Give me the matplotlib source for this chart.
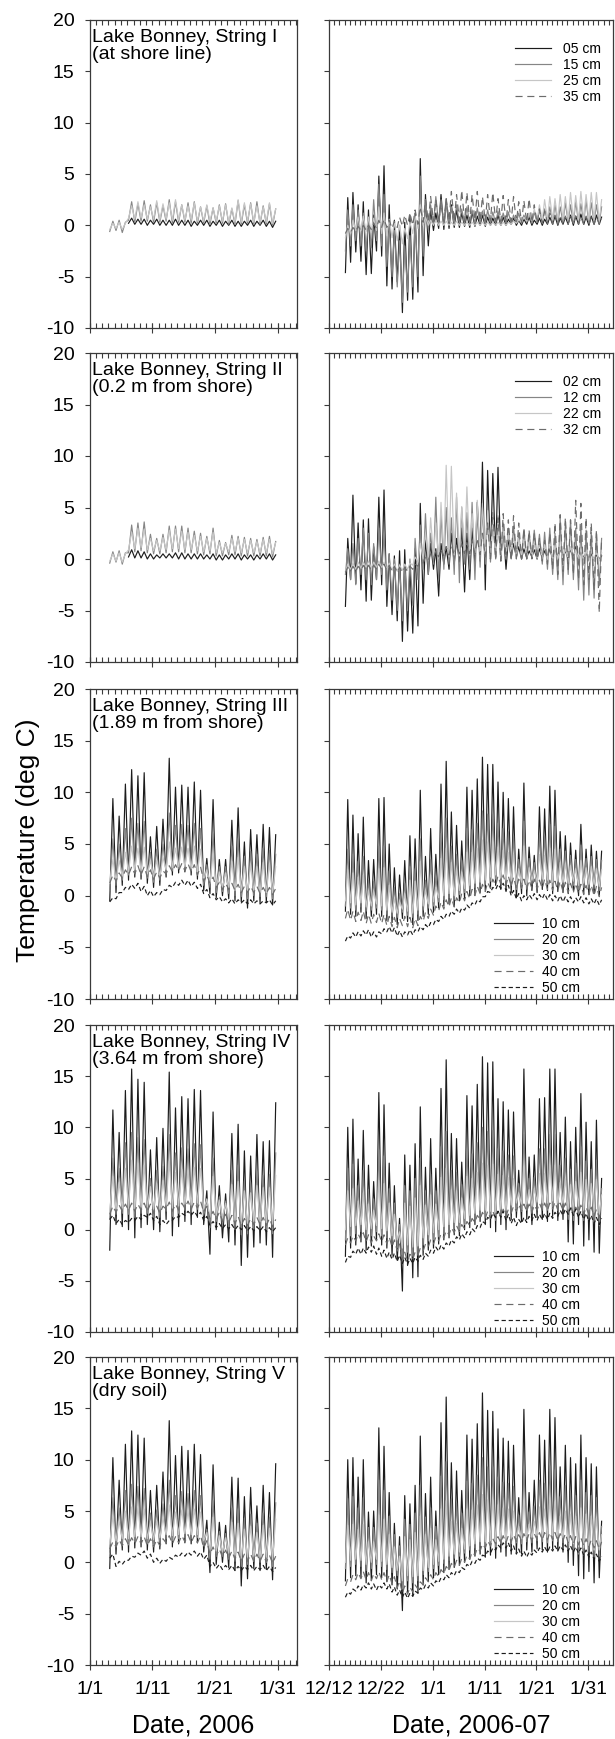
import numpy as np
import matplotlib.pyplot as plt
from matplotlib.ticker import FixedLocator, MultipleLocator

plt.rcParams['font.family'] = ['Liberation Sans', 'DejaVu Sans']
plt.rcParams['axes.unicode_minus'] = False

# ---------------------------------------------------------------- data
# daily minimum (lo) and maximum (hi) temperatures, deg C
# left column: days after 1/1/2006, right column: days after 12/12/2006
left_days = list(range(3, 30))
right_days = list(range(3, 53))
left_hour_lo, left_hour_hi = 0.2, 0.7
right_hour_lo, right_hour_hi = 0.15, 0.6

left_ticks = [0, 10, 20, 30]
left_ticklabels = ['1/1', '1/11', '1/21', '1/31']
right_ticks = [0, 10, 20, 30, 40, 50]
right_ticklabels = ['12/12', '12/22', '1/1', '1/11', '1/21', '1/31']

labels_I = ['05 cm', '15 cm', '25 cm', '35 cm']
labels_II = ['02 cm', '12 cm', '22 cm', '32 cm']
labels_deep = ['10 cm', '20 cm', '30 cm', '40 cm', '50 cm']

titles = ['Lake Bonney, String I\n(at shore line)',
          'Lake Bonney, String II\n(0.2 m from shore)',
          'Lake Bonney, String III\n(1.89 m from shore)',
          'Lake Bonney, String IV\n(3.64 m from shore)',
          'Lake Bonney, String V\n(dry soil)']

# --- String I, 2006
L1_05_hi = [None, None, None, 0.7, 0.6, 0.6, 0.5, 0.6, 0.5, 0.5, 0.6, 0.5, 0.5, 0.4, 0.5, 0.5, 0.4, 0.5, 0.4, 0.5, 0.4, 0.4, 0.5, 0.4, 0.5, 0.4, 0.4]
L1_05_lo = [None, None, None, 0.2, 0.1, 0.1, 0.0, 0.1, 0.0, 0.0, 0.0, 0.0, 0.0, -0.1, 0.0, 0.0, -0.1, 0.0, -0.1, 0.0, -0.1, -0.1, 0.0, -0.1, 0.0, -0.1, -0.2]
L1_15_hi = [0.4, 0.5, 0.3, 2.3, 2.1, 2.4, 2.0, 2.2, 1.9, 2.5, 2.3, 2.0, 2.2, 2.3, 1.8, 1.9, 1.7, 2.0, 2.1, 1.6, 2.4, 2.0, 2.2, 2.3, 1.9, 2.1, 1.6]
L1_15_lo = [-0.6, -0.5, -0.7, 0.5, 0.3, 0.4, 0.4, 0.3, 0.3, 0.4, 0.2, 0.3, 0.3, 0.2, 0.2, 0.2, 0.1, 0.2, 0.2, 0.1, 0.1, 0.1, 0.2, 0.1, 0.1, 0.1, 0.0]
L1_25_hi = [0.2, 0.3, 0.2, 1.9, 2.3, 2.0, 1.8, 2.4, 2.1, 2.2, 2.5, 2.0, 1.9, 2.2, 1.8, 2.0, 1.7, 1.9, 2.0, 1.7, 2.5, 2.2, 2.1, 1.9, 1.8, 2.2, 1.6]
L1_25_lo = [-0.4, -0.3, -0.4, 0.7, 0.6, 0.7, 0.6, 0.6, 0.5, 0.6, 0.5, 0.5, 0.5, 0.5, 0.4, 0.4, 0.4, 0.4, 0.4, 0.3, 0.3, 0.3, 0.4, 0.3, 0.3, 0.3, 0.2]

# --- String II, 2006
L2_02_hi = [None, None, None, 0.9, 0.8, 0.7, 0.5, 0.4, 0.5, 0.5, 0.6, 0.6, 0.5, 0.5, 0.5, 0.4, 0.5, 0.4, 0.4, 0.5, 0.5, 0.4, 0.4, 0.4, 0.5, 0.5, 0.4]
L2_02_lo = [None, None, None, 0.2, 0.1, 0.1, 0.0, 0.0, 0.1, 0.1, 0.1, 0.0, 0.0, 0.0, 0.0, 0.0, 0.0, -0.1, -0.1, 0.0, 0.0, -0.1, 0.0, -0.1, 0.0, 0.0, -0.1]
L2_12_hi = [0.7, 0.8, 0.6, 3.3, 3.5, 3.6, 2.4, 2.0, 2.4, 3.2, 3.2, 3.2, 3.0, 2.7, 2.5, 2.2, 3.0, 1.8, 1.6, 2.3, 2.2, 2.1, 2.0, 1.9, 2.1, 2.2, 1.7]
L2_12_lo = [-0.4, -0.3, -0.5, 0.6, 0.7, 0.8, 0.6, 0.5, 0.5, 0.6, 0.7, 0.7, 0.6, 0.6, 0.5, 0.4, 0.5, 0.3, 0.3, 0.4, 0.4, 0.3, 0.3, 0.3, 0.3, 0.3, 0.2]
L2_22_hi = [0.5, 0.6, 0.5, 2.6, 3.0, 2.9, 2.0, 1.8, 2.1, 2.8, 2.9, 2.7, 2.6, 2.3, 2.2, 2.0, 2.6, 1.6, 1.5, 2.0, 2.0, 1.9, 1.8, 1.7, 1.9, 1.9, 1.6]
L2_22_lo = [-0.2, -0.2, -0.3, 0.9, 1.0, 1.1, 0.9, 0.8, 0.8, 0.9, 1.0, 1.0, 0.9, 0.9, 0.8, 0.7, 0.8, 0.6, 0.6, 0.7, 0.7, 0.6, 0.6, 0.6, 0.6, 0.6, 0.5]

# --- String III, 2006
L3_10_hi = [9.4, 7.7, 10.8, 12.2, 11.6, 11.9, 5.7, 6.7, 7.4, 13.3, 10.5, 10.7, 10.5, 11.0, 10.2, 3.6, 9.3, 3.5, 3.5, 7.3, 8.5, 5.2, 6.4, 5.9, 6.9, 6.6, 5.9]
L3_10_lo = [-0.5, 0.3, 1.0, 1.5, 1.8, 1.6, 1.2, 0.8, 1.0, 1.8, 2.0, 2.2, 2.3, 2.0, 1.6, 0.5, 0.2, -0.2, 0.0, -0.3, -0.5, -0.6, -1.2, -0.5, -0.7, -0.6, -0.9]
L3_20_hi = [5.5, 5.0, 6.5, 7.5, 7.0, 7.2, 4.2, 4.5, 5.0, 8.0, 6.8, 6.9, 6.8, 7.0, 6.5, 3.0, 6.0, 2.8, 2.8, 4.8, 5.5, 3.8, 4.3, 4.0, 4.6, 4.4, 4.0]
L3_20_lo = [0.5, 1.0, 1.5, 2.0, 2.2, 2.0, 1.7, 1.3, 1.5, 2.2, 2.4, 2.6, 2.6, 2.4, 2.0, 1.0, 0.8, 0.3, 0.4, 0.2, 0.0, -0.1, -0.3, 0.0, -0.1, -0.1, -0.3]
L3_30_hi = [3.5, 3.4, 4.2, 4.8, 4.6, 4.7, 3.4, 3.4, 3.7, 5.2, 4.6, 4.7, 4.6, 4.8, 4.5, 2.5, 4.0, 2.3, 2.2, 3.3, 3.7, 2.8, 3.0, 2.8, 3.2, 3.1, 2.8]
L3_30_lo = [1.2, 1.5, 1.9, 2.3, 2.5, 2.4, 2.1, 1.8, 1.9, 2.5, 2.7, 2.8, 2.8, 2.6, 2.3, 1.5, 1.2, 0.8, 0.8, 0.7, 0.5, 0.4, 0.3, 0.4, 0.3, 0.3, 0.2]
L3_40_hi = [2.0, 2.2, 2.5, 2.8, 2.9, 2.8, 2.5, 2.3, 2.4, 2.9, 3.0, 3.1, 3.1, 3.0, 2.8, 2.0, 1.8, 1.3, 1.2, 1.2, 1.1, 0.9, 0.9, 0.9, 0.8, 0.8, 0.7]
L3_40_lo = [1.2, 1.4, 1.7, 2.0, 2.1, 2.0, 1.8, 1.6, 1.7, 2.1, 2.3, 2.4, 2.4, 2.3, 2.0, 1.4, 1.2, 0.8, 0.6, 0.6, 0.5, 0.3, 0.3, 0.3, 0.2, 0.2, 0.1]
L3_50_hi = [-0.2, 0.3, 0.8, 1.1, 1.2, 0.9, 0.5, 0.3, 0.6, 1.0, 1.3, 1.5, 1.5, 1.3, 1.1, 0.6, 0.2, -0.1, -0.3, -0.3, -0.4, -0.4, -0.4, -0.5, -0.5, -0.4, -0.5]
L3_50_lo = [-0.6, -0.3, 0.3, 0.6, 0.7, 0.4, 0.0, -0.1, 0.1, 0.5, 0.8, 1.0, 1.0, 0.9, 0.7, 0.2, -0.2, -0.4, -0.6, -0.7, -0.8, -0.7, -0.8, -0.8, -0.8, -0.7, -0.9]

# --- String IV, 2006
L4_10_hi = [11.7, 9.5, 13.6, 15.7, 14.7, 14.4, 7.8, 9.0, 9.9, 15.4, 11.9, 13.0, 12.8, 13.7, 13.6, 3.8, 11.5, 4.3, 3.5, 9.4, 10.3, 7.7, 7.2, 9.3, 8.6, 8.7, 12.4]
L4_10_lo = [-2.0, 0.5, 0.3, 0.0, -0.8, 0.2, 0.5, 0.0, -0.2, 1.0, -0.6, 0.3, 0.8, 0.5, 1.2, 0.5, -2.4, 0.0, -0.8, -1.2, -1.5, -3.5, -2.7, -1.7, -1.3, -1.5, -2.7]
L4_20_hi = [7.0, 6.0, 8.5, 9.5, 9.0, 8.8, 5.0, 5.8, 6.2, 9.3, 7.5, 8.0, 7.9, 8.4, 8.3, 3.0, 7.0, 3.2, 2.8, 5.8, 6.3, 4.8, 4.6, 5.7, 5.3, 5.4, 7.5]
L4_20_lo = [1.0, 1.5, 1.6, 1.5, 1.2, 1.6, 1.6, 1.2, 1.2, 1.8, 1.3, 1.6, 1.9, 1.7, 2.0, 1.4, 0.2, 0.8, 0.5, 0.2, 0.0, -0.5, -0.4, 0.0, 0.1, 0.0, -0.4]
L4_30_hi = [5.2, 4.6, 6.0, 6.8, 6.5, 6.3, 4.2, 4.5, 4.8, 6.7, 5.6, 5.9, 5.8, 6.1, 6.0, 3.0, 5.2, 2.9, 2.6, 4.4, 4.7, 3.8, 3.6, 4.3, 4.1, 4.1, 5.3]
L4_30_lo = [1.8, 2.0, 2.1, 2.1, 2.0, 2.2, 2.2, 2.0, 2.0, 2.4, 2.1, 2.3, 2.5, 2.4, 2.6, 2.0, 1.2, 1.4, 1.2, 1.0, 0.9, 0.6, 0.6, 0.8, 0.8, 0.7, 0.5]
L4_40_hi = [2.3, 2.4, 2.5, 2.6, 2.5, 2.6, 2.5, 2.3, 2.3, 2.7, 2.5, 2.6, 2.8, 2.7, 2.8, 2.3, 1.8, 1.7, 1.5, 1.4, 1.3, 1.1, 1.1, 1.2, 1.2, 1.1, 1.0]
L4_40_lo = [1.5, 1.7, 1.8, 1.9, 1.8, 1.9, 1.8, 1.6, 1.6, 2.0, 1.8, 1.9, 2.1, 2.0, 2.1, 1.7, 1.1, 1.0, 0.8, 0.7, 0.6, 0.4, 0.4, 0.5, 0.5, 0.4, 0.3]
L4_50_hi = [1.4, 1.0, 0.9, 1.1, 1.3, 1.4, 1.6, 1.3, 0.9, 0.9, 1.3, 1.6, 1.8, 1.8, 1.7, 1.3, 0.8, 0.6, 0.5, 0.5, 0.4, 0.4, 0.3, 0.3, 0.3, 0.2, 0.2]
L4_50_lo = [1.0, 0.6, 0.5, 0.7, 0.9, 1.0, 1.2, 0.9, 0.5, 0.5, 0.9, 1.2, 1.4, 1.4, 1.3, 0.9, 0.4, 0.2, 0.1, 0.1, 0.0, 0.0, -0.1, -0.1, -0.1, -0.2, -0.2]

# --- String V, 2006
L5_10_hi = [10.2, 8.0, 11.5, 12.8, 12.4, 12.1, 7.0, 7.5, 8.8, 13.8, 10.4, 11.3, 10.9, 11.5, 10.5, 4.1, 9.5, 3.9, 3.6, 8.3, 8.2, 6.4, 7.3, 5.5, 7.5, 6.8, 9.6]
L5_10_lo = [-0.6, 0.8, 1.2, 1.0, 1.4, 1.5, 1.2, 1.0, 1.3, 1.8, 1.5, 1.8, 1.9, 1.8, 1.9, 1.0, -1.0, -0.2, 0.0, -0.5, -0.8, -2.3, -1.6, -0.6, -0.8, -0.7, -1.7]
L5_20_hi = [6.3, 5.3, 7.0, 7.6, 7.4, 7.2, 4.8, 5.1, 5.7, 8.0, 6.5, 6.9, 6.7, 7.0, 6.5, 3.2, 6.0, 3.0, 2.8, 5.3, 5.2, 4.3, 4.7, 3.8, 4.8, 4.4, 5.8]
L5_20_lo = [1.0, 1.5, 1.8, 1.7, 2.0, 2.1, 1.8, 1.7, 1.9, 2.3, 2.1, 2.3, 2.4, 2.3, 2.4, 1.6, 0.3, 0.6, 0.6, 0.3, 0.1, -0.4, -0.2, 0.1, 0.0, 0.0, -0.4]
L5_30_hi = [4.5, 4.0, 5.0, 5.4, 5.3, 5.2, 3.9, 4.0, 4.3, 5.6, 4.9, 5.1, 5.0, 5.2, 4.9, 2.9, 4.4, 2.6, 2.4, 3.9, 3.8, 3.2, 3.5, 2.9, 3.6, 3.3, 4.2]
L5_30_lo = [1.8, 2.1, 2.3, 2.3, 2.5, 2.5, 2.3, 2.2, 2.4, 2.7, 2.6, 2.7, 2.8, 2.7, 2.7, 2.1, 1.2, 1.1, 1.0, 0.9, 0.7, 0.4, 0.5, 0.6, 0.5, 0.5, 0.3]
L5_40_hi = [2.0, 2.2, 2.3, 2.4, 2.5, 2.5, 2.3, 2.2, 2.3, 2.6, 2.5, 2.6, 2.7, 2.6, 2.6, 2.1, 1.5, 1.3, 1.2, 1.1, 1.0, 0.8, 0.8, 0.8, 0.8, 0.7, 0.6]
L5_40_lo = [1.3, 1.5, 1.6, 1.7, 1.8, 1.8, 1.6, 1.5, 1.6, 1.9, 1.8, 1.9, 2.0, 1.9, 1.9, 1.4, 0.8, 0.6, 0.5, 0.4, 0.3, 0.1, 0.1, 0.1, 0.1, 0.0, -0.1]
L5_50_hi = [0.8, 0.1, 0.2, 0.6, 0.9, 1.1, 0.8, 0.4, 0.3, 0.5, 0.7, 0.9, 1.0, 1.1, 1.0, 0.7, 0.0, -0.2, -0.3, -0.3, -0.4, -0.4, -0.3, -0.4, -0.3, -0.4, -0.5]
L5_50_lo = [0.4, -0.4, -0.2, 0.2, 0.5, 0.7, 0.4, 0.0, -0.1, 0.1, 0.3, 0.5, 0.6, 0.7, 0.6, 0.3, -0.4, -0.6, -0.7, -0.7, -0.8, -0.8, -0.7, -0.8, -0.7, -0.8, -0.9]

# --- String I, 2006-07
R1_05_hi = [2.7, 3.2, 2.0, 2.3, 1.5, 1.0, 4.8, 5.8, 2.0, 0.5, 0.0, 0.3, 1.0, 1.2, 6.5, 3.0, 1.5, 1.2, 3.0, 2.5, 2.0, 1.5, 1.2, 1.0, 1.3, 0.9, 1.0, 0.8, 0.7, 1.0, 0.8, 0.6, 0.7, 0.5, 0.6, 0.8, 0.5, 0.7, 0.6, 0.8, 0.9, 0.7, 0.8, 1.0, 0.9, 1.1, 0.8, 0.9, 1.0, 0.8]
R1_05_lo = [-4.6, -3.6, -2.6, -3.5, -4.8, -4.7, -2.5, -3.0, -5.9, -6.2, -5.5, -8.5, -7.3, -7.2, -6.5, -4.9, -2.0, -0.5, -0.3, -0.4, -0.3, -0.2, -0.2, -0.1, -0.2, -0.1, 0.0, -0.1, 0.0, 0.0, 0.0, 0.0, 0.1, 0.0, 0.0, 0.1, 0.0, 0.1, 0.0, 0.1, 0.1, 0.0, 0.1, 0.1, 0.0, 0.1, 0.1, 0.0, 0.1, 0.1]
R1_15_hi = [1.5, 2.0, 1.5, 1.2, 0.8, 2.5, 4.0, 3.0, 0.0, -0.5, -1.5, -2.0, -1.0, 0.5, 4.8, 2.5, 2.0, 2.8, 2.5, 2.2, 1.8, 2.0, 1.6, 1.8, 1.5, 1.7, 1.4, 1.5, 1.3, 1.4, 1.2, 1.3, 1.0, 1.2, 1.0, 1.1, 1.3, 1.5, 1.6, 1.8, 2.0, 1.8, 2.2, 2.0, 2.3, 2.1, 2.4, 2.2, 2.0, 1.8]
R1_15_lo = [-2.5, -2.0, -1.5, -2.0, -2.5, -2.2, -1.5, -2.0, -4.0, -5.0, -6.0, -7.5, -6.5, -6.0, -5.0, -3.0, -0.5, 0.0, 0.1, 0.0, 0.2, 0.1, 0.2, 0.1, 0.2, 0.1, 0.2, 0.1, 0.2, 0.2, 0.1, 0.2, 0.1, 0.2, 0.2, 0.3, 0.2, 0.3, 0.2, 0.3, 0.3, 0.2, 0.3, 0.3, 0.2, 0.3, 0.3, 0.2, 0.3, 0.2]
R1_25_hi = [0.0, 0.5, 0.8, 0.9, 0.8, 0.7, 1.8, 1.2, 0.6, 0.3, 0.0, -0.3, 0.3, 0.9, 2.0, 0.8, 0.5, 0.5, 0.4, 0.4, 0.3, 0.4, 0.3, 0.3, 0.3, 0.3, 0.3, 0.3, 0.3, 0.3, 0.3, 0.3, 0.4, 0.5, 0.8, 1.2, 1.6, 2.0, 2.5, 2.8, 2.6, 3.0, 2.8, 3.2, 2.9, 3.3, 3.0, 3.2, 3.2, 2.5]
R1_25_lo = [-1.2, -0.8, -0.5, -0.5, -0.6, -0.7, -0.5, -0.8, -1.0, -1.2, -1.5, -1.8, -1.3, -0.8, -0.3, 0.0, 0.0, 0.0, 0.0, 0.0, 0.0, 0.0, 0.0, 0.0, 0.0, 0.0, 0.0, 0.0, 0.0, 0.0, 0.0, 0.0, 0.1, 0.2, 0.3, 0.4, 0.5, 0.5, 0.5, 0.5, 0.5, 0.5, 0.5, 0.5, 0.5, 0.5, 0.5, 0.5, 0.5, 0.4]
R1_35_hi = [-0.3, -0.2, -0.1, 0.0, 0.0, 0.2, 0.5, 0.6, 0.5, 0.4, 0.8, 1.0, 1.2, 1.5, 1.8, 2.5, 2.8, 2.5, 2.2, 2.6, 3.3, 3.0, 3.4, 3.2, 3.0, 3.3, 2.8, 3.0, 3.2, 2.6, 2.9, 2.5, 2.8, 2.3, 2.4, 2.6, 2.0, 1.6, 1.4, 1.2, 1.0, 1.0, 0.9, 1.0, 0.9, 0.8, 0.9, 0.8, 0.8, 0.7]
R1_35_lo = [-0.8, -0.7, -0.6, -0.5, -0.5, -0.4, -0.3, -0.2, -0.2, -0.3, -0.2, -0.1, 0.0, 0.0, 0.1, 0.3, 0.4, 0.4, 0.3, 0.4, 0.5, 0.4, 0.5, 0.4, 0.4, 0.5, 0.4, 0.4, 0.5, 0.4, 0.4, 0.3, 0.4, 0.3, 0.3, 0.3, 0.3, 0.2, 0.2, 0.2, 0.1, 0.1, 0.1, 0.1, 0.1, 0.1, 0.1, 0.1, 0.1, 0.1]

# --- String II, 2006-07
R2_02_hi = [2.0, 6.2, 3.5, 3.8, 3.9, 1.2, 6.0, 6.7, 0.5, 0.3, 0.8, 0.9, -0.7, 1.0, 5.4, 2.0, 1.5, 1.0, 1.5, 1.2, 2.5, 2.0, 3.0, 2.5, 3.0, 5.5, 9.4, 8.6, 8.3, 8.9, 3.0, 2.0, 1.5, 1.2, 1.0, 0.8, 0.9, 1.0, 0.8, 1.0, 1.2, 1.0, 0.8, 1.0, 1.2, 0.8, 0.6, 0.5, 0.4, 0.3]
R2_02_lo = [-4.6, -2.0, -2.4, -3.0, -4.1, -4.0, -2.0, -2.5, -4.6, -5.4, -6.0, -8.0, -7.0, -7.2, -6.5, -4.3, -1.5, -1.0, -3.6, -0.5, -1.0, -0.5, -0.3, -3.2, -2.0, -0.5, -0.2, -3.0, 0.0, 0.2, 0.0, -1.0, 0.1, 0.2, 0.0, 0.1, 0.2, 0.0, 0.1, 0.2, 0.0, 0.1, 0.2, 0.0, 0.1, 0.0, 0.1, 0.0, -0.1, 0.0]
R2_12_hi = [1.0, 1.5, 2.0, 3.0, 2.5, 1.5, 3.0, 2.5, 0.5, 0.0, -0.5, -0.5, 0.0, 2.0, 3.3, 4.4, 2.5, 6.0, 4.5, 5.0, 4.0, 6.0, 5.0, 4.5, 5.5, 4.8, 5.0, 4.5, 4.0, 4.2, 3.5, 3.0, 3.2, 2.5, 2.8, 2.5, 2.8, 2.4, 2.6, 3.0, 2.5, 4.0, 3.5, 3.8, 3.0, 3.2, 2.8, 2.6, 2.5, 2.0]
R2_12_lo = [-1.5, -2.0, -2.5, -1.5, -2.0, -2.5, -2.0, -1.5, -3.0, -4.0, -5.0, -6.0, -5.0, -4.5, -2.0, -1.0, -1.5, -0.5, -2.0, -1.0, -0.5, -1.5, -2.3, -0.5, -1.0, -2.0, -0.8, -0.5, -0.3, 0.0, -0.2, 0.0, 0.0, 0.1, 0.0, 0.0, 0.2, 0.0, -0.5, -1.0, -1.5, -2.0, -2.5, -1.5, -2.0, -3.0, -4.0, -3.5, -3.8, -2.6]
R2_22_hi = [-0.5, -0.4, -0.3, -0.3, -0.2, -0.3, -0.2, -0.3, -0.4, -0.5, -0.6, -0.5, -0.4, 0.2, 1.5, 2.5, 4.0, 3.5, 5.5, 9.1, 9.0, 6.4, 5.1, 7.0, 4.4, 5.7, 5.4, 4.7, 4.0, 3.5, 3.0, 2.5, 2.2, 2.0, 1.8, 1.6, 1.5, 1.6, 1.4, 1.5, 1.3, 1.2, 1.0, 1.2, 0.9, 1.0, 0.8, 0.9, 0.7, 0.6]
R2_22_lo = [-1.2, -1.0, -1.0, -0.9, -0.8, -0.9, -0.8, -0.9, -1.0, -1.1, -1.2, -1.1, -1.0, -0.6, -0.3, 0.0, 0.0, 0.2, 0.1, 0.3, 0.2, 0.4, 0.3, 0.5, 0.4, 0.5, 0.4, 0.5, 0.4, 0.4, 0.3, 0.3, 0.3, 0.2, 0.2, 0.2, 0.1, 0.1, 0.0, 0.0, 0.0, 0.0, 0.0, 0.0, 0.0, 0.0, -0.1, -0.1, -0.2, -0.2]
R2_32_hi = [-0.8, -0.7, -0.7, -0.6, -0.6, -0.6, -0.5, -0.5, -0.6, -0.7, -0.8, -0.8, -0.7, -0.5, -0.2, 0.2, 0.5, 0.8, 1.0, 1.2, 1.3, 1.4, 1.5, 1.6, 1.8, 2.0, 2.5, 3.5, 4.5, 4.0, 4.4, 3.8, 4.2, 3.5, 3.0, 2.8, 2.5, 2.0, 1.8, 2.5, 3.5, 4.3, 4.0, 3.8, 5.7, 5.4, 4.0, 3.5, 2.8, 2.0]
R2_32_lo = [-1.3, -1.2, -1.2, -1.1, -1.1, -1.1, -1.0, -1.0, -1.1, -1.2, -1.3, -1.3, -1.2, -1.0, -0.7, -0.4, -0.1, 0.1, 0.2, 0.3, 0.4, 0.4, 0.5, 0.5, 0.5, 0.5, 0.4, 0.2, 0.0, 0.0, -0.2, 0.0, -0.1, 0.0, 0.0, 0.0, 0.0, 0.0, -0.2, -0.5, -1.0, -1.5, -1.2, -1.0, -1.5, -2.0, -2.5, -2.0, -3.0, -5.2]

# --- String III, 2006-07
R3_10_hi = [9.3, 7.8, 6.0, 7.6, 3.4, 3.5, 9.4, 9.5, 5.0, 2.7, 2.0, 3.4, 5.8, 5.5, 10.2, 3.8, 6.5, 4.0, 10.8, 13.0, 8.1, 6.8, 5.3, 10.5, 10.2, 11.3, 13.4, 12.7, 12.7, 11.0, 10.0, 9.4, 8.6, 4.5, 10.9, 4.7, 3.9, 8.6, 8.4, 10.6, 10.2, 6.2, 5.8, 5.1, 4.4, 6.9, 4.5, 4.9, 4.3, 4.3]
R3_10_lo = [-1.5, -1.8, -2.0, -1.6, -2.2, -2.0, -1.8, -2.0, -2.4, -2.6, -2.8, -2.2, -2.5, -2.8, -2.4, -2.0, -1.8, -1.6, -1.2, -1.0, -0.8, -1.0, -0.5, -0.3, 0.0, 0.2, 0.3, 0.5, 0.8, 1.0, 0.6, 0.4, 0.3, -0.2, 0.2, 0.0, 0.5, 0.3, 0.6, 0.5, 0.2, 0.4, 0.3, 0.2, 0.5, 0.0, 0.3, 0.1, 0.2, 0.0]
R3_20_hi = [4.5, 4.0, 3.3, 3.8, 1.5, 1.4, 4.8, 4.8, 2.4, 0.8, 0.2, 1.2, 2.8, 2.6, 5.5, 1.5, 3.5, 1.9, 6.0, 7.5, 4.8, 4.0, 3.4, 6.5, 6.4, 7.0, 8.2, 7.9, 7.9, 7.0, 6.5, 6.2, 5.8, 3.5, 7.2, 3.6, 3.2, 5.9, 5.8, 6.9, 6.7, 4.5, 4.3, 3.9, 3.5, 4.9, 3.6, 3.8, 3.5, 3.4]
R3_20_lo = [-1.0, -1.2, -1.4, -1.1, -1.5, -1.4, -1.2, -1.4, -1.8, -2.0, -2.1, -1.6, -1.9, -2.1, -1.8, -1.4, -1.2, -1.0, -0.6, -0.4, -0.2, -0.4, 0.1, 0.3, 0.6, 0.8, 0.9, 1.1, 1.4, 1.6, 1.3, 1.1, 1.0, 0.6, 0.9, 0.7, 1.1, 0.9, 1.2, 1.1, 0.9, 1.0, 0.9, 0.8, 1.0, 0.6, 0.8, 0.7, 0.7, 0.5]
R3_30_hi = [2.5, 2.2, 1.8, 2.0, 0.5, 0.4, 2.6, 2.7, 1.0, -0.3, -0.6, 0.2, 1.5, 1.4, 3.3, 0.5, 2.0, 0.8, 3.6, 4.6, 3.2, 2.6, 2.3, 4.2, 4.2, 4.6, 5.4, 5.2, 5.2, 4.7, 4.4, 4.2, 4.0, 2.6, 4.8, 2.7, 2.4, 4.0, 3.9, 4.6, 4.5, 3.2, 3.1, 2.9, 2.6, 3.4, 2.7, 2.8, 2.6, 2.5]
R3_30_lo = [-0.5, -0.7, -0.9, -0.7, -1.1, -1.0, -0.8, -1.0, -1.4, -1.6, -1.7, -1.3, -1.5, -1.7, -1.4, -1.0, -0.8, -0.6, -0.2, 0.0, 0.2, 0.0, 0.5, 0.7, 1.0, 1.2, 1.3, 1.5, 1.8, 2.0, 1.7, 1.5, 1.4, 1.1, 1.3, 1.1, 1.5, 1.3, 1.6, 1.5, 1.3, 1.4, 1.3, 1.2, 1.4, 1.0, 1.2, 1.1, 1.1, 0.9]
R3_40_hi = [-1.3, -1.5, -1.6, -1.5, -1.8, -1.8, -1.7, -1.8, -2.0, -2.1, -2.2, -2.0, -2.1, -2.2, -2.0, -1.6, -1.3, -1.0, -0.6, -0.4, -0.2, -0.2, 0.2, 0.4, 0.6, 0.9, 1.1, 1.3, 1.6, 1.9, 2.0, 1.9, 1.8, 1.6, 1.6, 1.5, 1.6, 1.5, 1.6, 1.5, 1.4, 1.4, 1.3, 1.2, 1.2, 1.1, 1.0, 1.0, 0.9, 0.8]
R3_40_lo = [-2.2, -2.4, -2.5, -2.4, -2.7, -2.7, -2.6, -2.7, -2.9, -3.0, -3.1, -2.9, -3.0, -3.1, -2.9, -2.5, -2.2, -1.9, -1.5, -1.3, -1.1, -1.1, -0.7, -0.5, -0.3, 0.0, 0.2, 0.4, 0.7, 1.0, 1.1, 1.0, 0.9, 0.7, 0.7, 0.6, 0.7, 0.6, 0.7, 0.6, 0.5, 0.5, 0.4, 0.3, 0.3, 0.2, 0.1, 0.1, 0.0, -0.1]
R3_50_hi = [-3.9, -3.6, -3.5, -3.4, -3.3, -3.5, -3.5, -3.2, -3.0, -3.1, -3.4, -3.5, -3.3, -3.3, -3.0, -2.8, -2.6, -2.3, -2.0, -1.8, -1.5, -1.3, -1.2, -0.9, -0.7, -0.4, -0.1, 0.4, 0.8, 1.1, 1.2, 1.0, 0.5, 0.2, 0.0, 0.1, 0.2, 0.1, 0.2, 0.1, 0.0, 0.0, -0.1, -0.1, -0.2, -0.1, -0.2, -0.3, -0.3, -0.4]
R3_50_lo = [-4.4, -4.1, -4.0, -3.9, -3.8, -4.0, -4.0, -3.7, -3.5, -3.6, -3.9, -4.0, -3.8, -3.8, -3.5, -3.3, -3.1, -2.8, -2.5, -2.3, -2.0, -1.8, -1.7, -1.4, -1.2, -0.9, -0.6, -0.1, 0.3, 0.6, 0.7, 0.5, 0.0, -0.3, -0.5, -0.4, -0.3, -0.4, -0.3, -0.4, -0.5, -0.5, -0.6, -0.6, -0.7, -0.6, -0.7, -0.8, -0.8, -0.9]

# --- String IV, 2006-07
R4_10_hi = [10.0, 10.8, 6.9, 9.7, 6.3, 4.7, 13.4, 12.2, 6.5, 4.3, 1.1, 7.3, 6.3, 8.4, 12.0, 6.1, 8.9, 6.0, 13.8, 16.6, 9.4, 8.9, 6.6, 13.1, 12.1, 14.2, 16.9, 16.3, 16.4, 12.8, 12.5, 11.7, 11.5, 5.8, 15.7, 7.1, 7.3, 12.8, 12.9, 15.7, 15.7, 9.5, 11.0, 8.6, 10.0, 13.3, 10.5, 8.6, 10.7, 5.0]
R4_10_lo = [-2.6, -1.8, -1.5, -1.2, -2.0, -1.6, -1.0, -1.5, -1.8, -2.5, -3.0, -6.0, -3.5, -4.7, -4.6, -2.5, -2.0, -1.8, -1.4, -1.0, -0.8, -0.5, -0.6, 0.0, 0.2, 0.5, 0.8, 0.5, 0.2, -0.2, 0.5, 0.0, 1.0, 1.2, 0.8, 1.0, 0.5, 1.2, 1.0, 0.8, 1.3, 0.9, 1.0, -1.2, -1.4, 0.5, -1.6, -1.0, -2.2, -2.3]
R4_20_hi = [6.0, 6.4, 4.3, 5.8, 3.9, 3.0, 7.8, 7.2, 4.0, 2.6, 0.5, 4.3, 3.8, 5.0, 7.0, 3.8, 5.4, 3.8, 8.1, 9.6, 5.8, 5.6, 4.4, 7.9, 7.4, 8.5, 10.0, 9.6, 9.7, 7.9, 7.7, 7.3, 7.2, 4.5, 9.3, 5.0, 5.1, 7.9, 7.9, 9.3, 9.3, 6.3, 7.0, 5.9, 6.5, 8.1, 6.7, 5.9, 6.8, 4.0]
R4_20_lo = [-1.0, -0.6, -0.4, -0.2, -0.8, -0.6, -0.2, -0.6, -0.8, -1.4, -1.8, -3.0, -2.2, -2.6, -2.5, -1.5, -1.1, -1.0, -0.7, -0.4, -0.2, 0.1, 0.0, 0.5, 0.8, 1.0, 1.3, 1.2, 1.1, 0.9, 1.3, 1.1, 1.8, 2.0, 1.8, 1.9, 1.6, 2.1, 2.0, 1.9, 2.2, 1.9, 2.0, 1.0, 0.9, 1.5, 0.9, 1.0, 0.6, 0.4]
R4_30_hi = [3.8, 4.0, 2.8, 3.6, 2.5, 1.9, 4.8, 4.5, 2.6, 1.5, -0.2, 2.6, 2.3, 3.1, 4.3, 2.4, 3.4, 2.5, 5.1, 6.0, 3.9, 3.8, 3.1, 5.2, 5.0, 5.6, 6.5, 6.3, 6.4, 5.4, 5.3, 5.1, 5.0, 3.6, 6.2, 3.9, 4.0, 5.5, 5.5, 6.3, 6.3, 4.6, 5.0, 4.4, 4.7, 5.6, 4.9, 4.5, 4.9, 3.4]
R4_30_lo = [0.0, 0.3, 0.4, 0.5, 0.0, 0.1, 0.4, 0.1, -0.1, -0.6, -1.0, -1.8, -1.5, -1.7, -1.6, -0.8, -0.5, -0.3, 0.0, 0.3, 0.5, 0.7, 0.7, 1.1, 1.4, 1.6, 1.9, 1.9, 1.8, 1.7, 2.0, 1.9, 2.4, 2.6, 2.5, 2.5, 2.3, 2.7, 2.6, 2.6, 2.8, 2.6, 2.6, 2.0, 1.9, 2.3, 1.9, 2.0, 1.7, 1.5]
R4_40_hi = [-0.8, -0.6, -0.4, -0.3, -0.5, -0.6, -0.4, -0.5, -0.7, -1.0, -1.4, -2.2, -2.4, -2.2, -1.8, -1.4, -1.0, -0.7, -0.4, -0.1, 0.2, 0.4, 0.5, 0.8, 1.1, 1.4, 1.7, 1.8, 1.8, 1.8, 2.0, 2.0, 2.3, 2.5, 2.5, 2.5, 2.4, 2.6, 2.6, 2.6, 2.7, 2.6, 2.6, 2.3, 2.2, 2.4, 2.2, 2.2, 2.0, 1.9]
R4_40_lo = [-1.5, -1.3, -1.1, -1.0, -1.2, -1.3, -1.1, -1.2, -1.4, -1.7, -2.1, -2.9, -3.1, -2.9, -2.5, -2.1, -1.7, -1.4, -1.1, -0.8, -0.5, -0.3, -0.2, 0.1, 0.4, 0.7, 1.0, 1.1, 1.1, 1.1, 1.3, 1.3, 1.6, 1.8, 1.8, 1.8, 1.7, 1.9, 1.9, 1.9, 2.0, 1.9, 1.9, 1.6, 1.5, 1.7, 1.5, 1.5, 1.3, 1.2]
R4_50_hi = [-2.6, -2.1, -1.8, -1.8, -1.7, -1.6, -1.8, -2.0, -2.2, -2.3, -2.5, -2.7, -2.8, -2.7, -2.5, -2.3, -2.0, -1.7, -1.5, -1.3, -1.0, -0.7, -0.4, -0.2, 0.1, 0.4, 0.8, 1.2, 1.6, 1.8, 1.8, 1.5, 1.2, 1.0, 1.2, 1.3, 1.5, 1.5, 1.6, 1.6, 1.7, 1.9, 2.0, 2.1, 2.0, 1.8, 1.6, 1.4, 1.2, 1.1]
R4_50_lo = [-3.2, -2.7, -2.4, -2.4, -2.3, -2.2, -2.4, -2.6, -2.8, -2.9, -3.1, -3.3, -3.4, -3.3, -3.1, -2.9, -2.6, -2.3, -2.1, -1.9, -1.6, -1.3, -1.0, -0.8, -0.5, -0.2, 0.2, 0.6, 1.0, 1.2, 1.2, 0.9, 0.6, 0.4, 0.6, 0.7, 0.9, 0.9, 1.0, 1.0, 1.1, 1.3, 1.4, 1.5, 1.4, 1.2, 1.0, 0.8, 0.6, 0.5]

# --- String V, 2006-07
R5_10_hi = [10.0, 10.2, 8.3, 10.0, 4.9, 5.0, 13.1, 11.3, 6.8, 3.8, 2.5, 6.5, 5.7, 7.5, 12.3, 6.7, 8.3, 5.0, 13.6, 16.1, 9.7, 8.9, 7.0, 12.4, 12.0, 13.5, 16.5, 14.8, 14.7, 13.0, 12.1, 11.8, 11.4, 6.3, 14.9, 6.8, 8.0, 12.4, 11.9, 14.9, 14.1, 9.3, 11.4, 10.2, 9.6, 12.4, 10.2, 9.6, 9.3, 4.0]
R5_10_lo = [-1.8, -1.5, -1.3, -1.5, -2.0, -1.7, -1.2, -1.5, -1.8, -2.2, -2.6, -4.7, -3.0, -3.3, -3.0, -2.2, -1.8, -1.5, -1.2, -1.0, -0.7, -0.5, -0.3, 0.0, 0.3, 0.6, 0.8, 0.5, 0.7, 0.4, 1.0, 0.6, 0.8, 1.0, 0.8, 1.2, 1.0, 1.3, 1.2, 1.0, 1.3, 1.1, 1.0, 0.0, -0.3, -1.3, -1.6, -0.9, -2.0, -1.5]
R5_20_hi = [6.2, 6.4, 5.3, 6.3, 3.4, 3.4, 8.0, 7.0, 4.5, 2.7, 1.6, 4.2, 3.7, 4.8, 7.5, 4.4, 5.3, 3.5, 8.4, 9.8, 6.2, 5.8, 4.8, 7.9, 7.7, 8.5, 10.2, 9.3, 9.3, 8.3, 7.8, 7.7, 7.4, 4.6, 9.3, 4.9, 5.5, 8.0, 7.7, 9.4, 9.0, 6.4, 7.5, 6.8, 6.5, 8.0, 6.8, 6.5, 6.3, 3.5]
R5_20_lo = [-0.6, -0.4, -0.2, -0.4, -0.8, -0.6, -0.2, -0.4, -0.7, -1.0, -1.3, -2.6, -1.8, -2.0, -1.8, -1.2, -0.9, -0.6, -0.3, -0.1, 0.2, 0.4, 0.6, 0.9, 1.2, 1.4, 1.6, 1.5, 1.6, 1.5, 1.8, 1.6, 1.8, 1.9, 1.8, 2.0, 1.9, 2.1, 2.0, 1.9, 2.1, 2.0, 1.9, 1.3, 1.2, 0.8, 0.7, 1.0, 0.5, 0.6]
R5_30_hi = [3.6, 3.7, 3.2, 3.7, 2.0, 2.0, 4.6, 4.2, 2.7, 1.5, 0.6, 2.5, 2.2, 2.9, 4.5, 2.7, 3.3, 2.2, 5.2, 6.0, 4.0, 3.8, 3.3, 5.2, 5.1, 5.6, 6.6, 6.1, 6.1, 5.6, 5.3, 5.2, 5.0, 3.5, 6.1, 3.7, 4.0, 5.4, 5.2, 6.1, 5.9, 4.5, 5.0, 4.7, 4.5, 5.3, 4.7, 4.5, 4.3, 2.7]
R5_30_lo = [0.0, 0.2, 0.3, 0.2, -0.2, 0.0, 0.3, 0.1, -0.2, -0.5, -0.8, -1.8, -1.3, -1.4, -1.3, -0.8, -0.5, -0.2, 0.1, 0.3, 0.6, 0.8, 1.0, 1.3, 1.6, 1.8, 2.0, 2.0, 2.1, 2.0, 2.3, 2.1, 2.3, 2.4, 2.3, 2.5, 2.4, 2.6, 2.5, 2.4, 2.6, 2.5, 2.4, 1.9, 1.8, 1.5, 1.4, 1.6, 1.2, 1.2]
R5_40_hi = [-1.6, -1.2, -1.0, -0.9, -1.0, -1.1, -0.9, -1.0, -1.2, -1.4, -1.8, -2.3, -2.4, -2.2, -1.9, -1.5, -1.2, -1.0, -0.7, -0.4, -0.1, 0.2, 0.4, 0.7, 1.0, 1.4, 1.8, 2.1, 2.3, 2.5, 2.6, 2.6, 2.7, 2.7, 2.8, 2.8, 2.8, 2.9, 2.9, 2.9, 2.9, 2.8, 2.8, 2.6, 2.5, 2.4, 2.3, 2.2, 2.1, 2.0]
R5_40_lo = [-2.3, -1.9, -1.7, -1.6, -1.7, -1.8, -1.6, -1.7, -1.9, -2.1, -2.5, -3.0, -3.1, -2.9, -2.6, -2.2, -1.9, -1.7, -1.4, -1.1, -0.8, -0.5, -0.3, 0.0, 0.3, 0.7, 1.1, 1.4, 1.6, 1.8, 1.9, 1.9, 2.0, 2.0, 2.1, 2.1, 2.1, 2.2, 2.2, 2.2, 2.2, 2.1, 2.1, 1.9, 1.8, 1.7, 1.6, 1.5, 1.4, 1.3]
R5_50_hi = [-2.9, -2.6, -2.3, -2.2, -2.0, -2.1, -2.2, -2.0, -2.1, -2.4, -2.7, -2.9, -3.0, -2.8, -2.5, -2.2, -2.0, -1.8, -1.5, -1.2, -1.0, -0.8, -0.5, -0.2, 0.1, 0.4, 0.7, 1.1, 1.4, 1.7, 1.9, 1.9, 1.6, 1.3, 1.1, 1.0, 1.2, 1.4, 1.5, 1.5, 1.6, 1.6, 1.7, 1.6, 1.5, 1.4, 1.2, 1.0, 0.8, 0.6]
R5_50_lo = [-3.4, -3.1, -2.8, -2.7, -2.5, -2.6, -2.7, -2.5, -2.6, -2.9, -3.2, -3.4, -3.5, -3.3, -3.0, -2.7, -2.5, -2.3, -2.0, -1.7, -1.5, -1.3, -1.0, -0.7, -0.4, -0.1, 0.2, 0.6, 0.9, 1.2, 1.4, 1.4, 1.1, 0.8, 0.6, 0.5, 0.7, 0.9, 1.0, 1.0, 1.1, 1.1, 1.2, 1.1, 1.0, 0.9, 0.7, 0.5, 0.3, 0.1]

# ---------------------------------------------------------------- panels
left_series = [
    [(L1_05_lo, L1_05_hi), (L1_15_lo, L1_15_hi), (L1_25_lo, L1_25_hi), None],
    [(L2_02_lo, L2_02_hi), (L2_12_lo, L2_12_hi), (L2_22_lo, L2_22_hi), None],
    [(L3_10_lo, L3_10_hi), (L3_20_lo, L3_20_hi), (L3_30_lo, L3_30_hi), (L3_40_lo, L3_40_hi), (L3_50_lo, L3_50_hi)],
    [(L4_10_lo, L4_10_hi), (L4_20_lo, L4_20_hi), (L4_30_lo, L4_30_hi), (L4_40_lo, L4_40_hi), (L4_50_lo, L4_50_hi)],
    [(L5_10_lo, L5_10_hi), (L5_20_lo, L5_20_hi), (L5_30_lo, L5_30_hi), (L5_40_lo, L5_40_hi), (L5_50_lo, L5_50_hi)],
]
right_series = [
    [(R1_05_lo, R1_05_hi), (R1_15_lo, R1_15_hi), (R1_25_lo, R1_25_hi), (R1_35_lo, R1_35_hi)],
    [(R2_02_lo, R2_02_hi), (R2_12_lo, R2_12_hi), (R2_22_lo, R2_22_hi), (R2_32_lo, R2_32_hi)],
    [(R3_10_lo, R3_10_hi), (R3_20_lo, R3_20_hi), (R3_30_lo, R3_30_hi), (R3_40_lo, R3_40_hi), (R3_50_lo, R3_50_hi)],
    [(R4_10_lo, R4_10_hi), (R4_20_lo, R4_20_hi), (R4_30_lo, R4_30_hi), (R4_40_lo, R4_40_hi), (R4_50_lo, R4_50_hi)],
    [(R5_10_lo, R5_10_hi), (R5_20_lo, R5_20_hi), (R5_30_lo, R5_30_hi), (R5_40_lo, R5_40_hi), (R5_50_lo, R5_50_hi)],
]
row_labels = [labels_I, labels_II, labels_deep, labels_deep, labels_deep]

colors = ['#1c1c1c', '#858585', '#c6c6c6', '#6c6c6c', '#1c1c1c']
dashes = [None, None, None, (6, 4), (3.6, 2.4)]
frame = '#3a3a3a'

W, H = 615.0, 1739.0
rows_px = [(20, 328), (353, 662), (689, 999), (1025, 1332), (1357, 1665)]
cols_px = [(89.7, 297.0), (329.1, 613.0)]
xmax = [33.1, 54.8]


def zigzag(days, lo, hi, t_lo, t_hi):
    t, v = [], []
    for d, a, b in zip(days, lo, hi):
        t += [d + t_lo, d + t_hi]
        v += [a, b]
    return t, np.array(v, dtype=float)


fig = plt.figure(figsize=(W / 100, H / 100), dpi=100)

for r, (yt, yb) in enumerate(rows_px):
    for c, (x0, x1) in enumerate(cols_px):
        ax = fig.add_axes([x0 / W, 1 - yb / H, (x1 - x0) / W, (yb - yt) / H])
        if c == 0:
            series, days, tl, th = left_series[r], left_days, left_hour_lo, left_hour_hi
        else:
            series, days, tl, th = right_series[r], right_days, right_hour_lo, right_hour_hi
        for k, s in enumerate(series):
            lab = row_labels[r][k]
            if s is None:
                continue
            t, v = zigzag(days, s[0], s[1], tl, th)
            ln, = ax.plot(t, v, color=colors[k], lw=0.85, label=lab)
            if dashes[k] is not None:
                ln.set_dashes(dashes[k])

        ax.set_ylim(-10, 20)
        ax.set_yticks([-10, -5, 0, 5, 10, 15, 20])
        ax.set_xlim(0, xmax[c])
        ax.xaxis.set_major_locator(FixedLocator(left_ticks if c == 0 else right_ticks))
        ax.xaxis.set_minor_locator(MultipleLocator(1))
        ax.xaxis.remove_overlapping_locs = False
        for sp in ax.spines.values():
            sp.set_color(frame)
            sp.set_linewidth(0.9)
        ax.tick_params(axis='y', which='major', direction='out', length=3.6, width=0.8,
                       color=frame, left=True, right=False, pad=7.5, labelsize=14,
                       labelleft=(c == 0))
        ax.tick_params(axis='x', which='major', direction='inout', length=7.2, width=0.8,
                       color=frame, top=False, bottom=True, pad=8, labelsize=14,
                       labelbottom=(r == 4))
        ax.tick_params(axis='x', which='minor', direction='in', length=3.6, width=0.8,
                       color=frame, top=True, bottom=True)
        if r == 4:
            ax.set_xticklabels(left_ticklabels if c == 0 else right_ticklabels)

        if c == 0:
            ax.text(0.012, 0.972, titles[r], transform=ax.transAxes, ha='left', va='top',
                    fontsize=14, linespacing=1.05)
        else:
            if r < 2:
                ax.legend(loc='upper right', bbox_to_anchor=(0.957, 0.93), frameon=False,
                          fontsize=10, handlelength=2.6, handletextpad=0.85,
                          labelspacing=0.15, borderpad=0, borderaxespad=0)
            else:
                ax.legend(loc='lower right', bbox_to_anchor=(0.885, 0.012), frameon=False,
                          fontsize=10, handlelength=2.8, handletextpad=0.7,
                          labelspacing=0.15, borderpad=0, borderaxespad=0)

fig.text(28 / W, 1 - 840 / H, 'Temperature (deg C)', rotation=90, ha='center', va='center',
         fontsize=19)
fig.text((cols_px[0][0] + cols_px[0][1]) / 2 / W, 1 - 1726 / H, 'Date, 2006',
         ha='center', va='center', fontsize=18)
fig.text((cols_px[1][0] + cols_px[1][1]) / 2 / W, 1 - 1726 / H, 'Date, 2006-07',
         ha='center', va='center', fontsize=18)

fig.savefig('out.png', dpi=100)
